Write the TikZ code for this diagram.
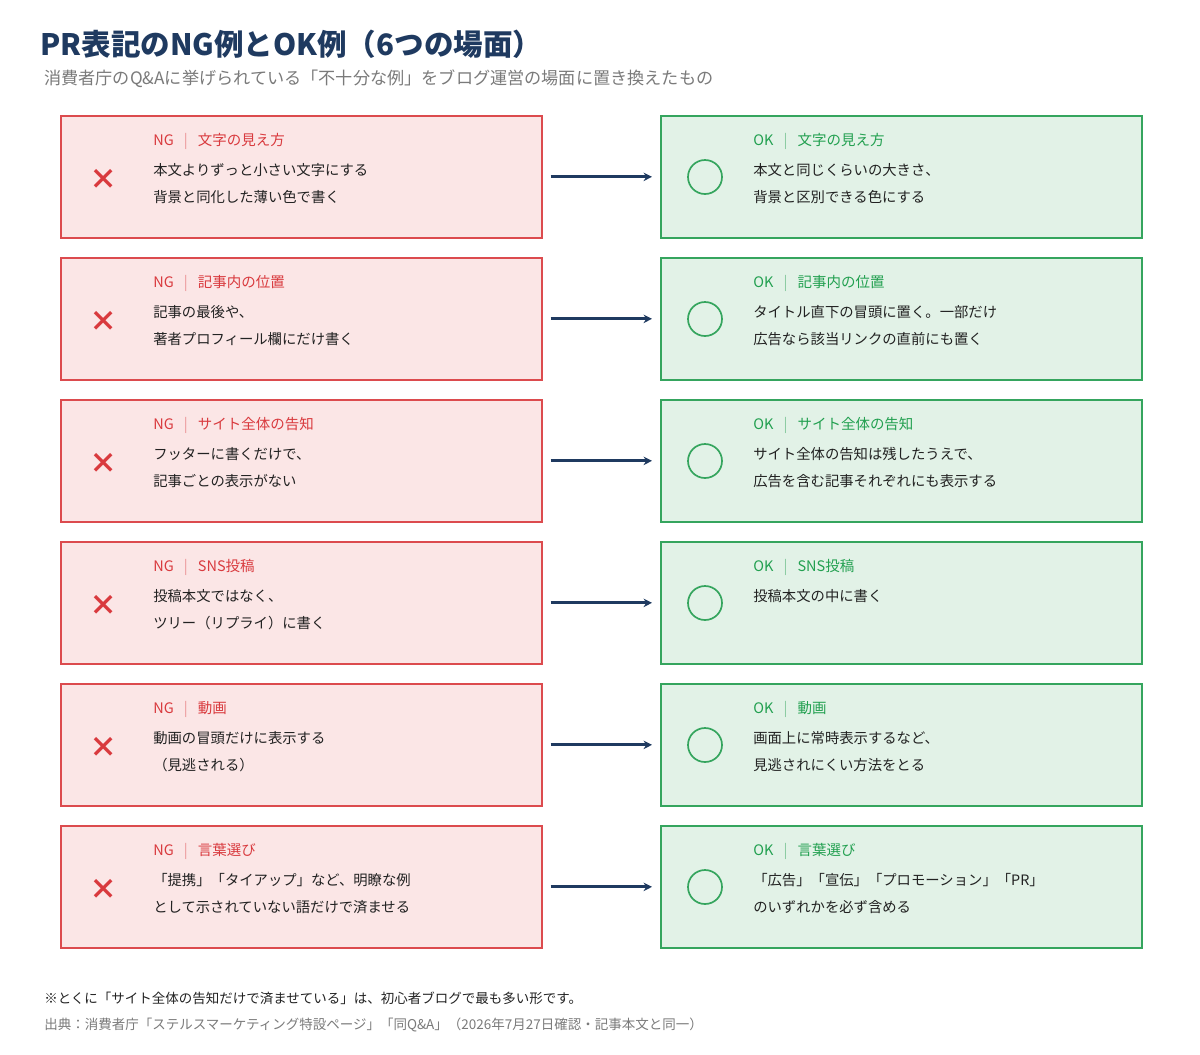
\documentclass[tikz,border=0pt]{standalone}
\usepackage{fontspec}
\setmainfont{Noto Sans CJK JP}
\usepackage{tikz}
\usetikzlibrary{positioning, arrows.meta}
\definecolor{ngline}{HTML}{DC4B4E}
\definecolor{ngfill}{HTML}{FBE6E6}
\definecolor{ngtext}{HTML}{D93A3E}
\definecolor{okline}{HTML}{35A55E}
\definecolor{okfill}{HTML}{E2F2E7}
\definecolor{oktext}{HTML}{22A050}
\definecolor{navy}{HTML}{1F3A60}
\definecolor{greytext}{HTML}{7A7A7A}
\definecolor{bodytext}{HTML}{222222}

\begin{document}
\begin{tikzpicture}[
    x=0.025cm, y=-0.025cm,
    ngbox/.style={rectangle, draw=ngline, fill=ngfill, line width=1.2pt, minimum width=481*0.025cm, minimum height=122*0.025cm, anchor=north west},
    okbox/.style={rectangle, draw=okline, fill=okfill, line width=1.2pt, minimum width=481*0.025cm, minimum height=122*0.025cm, anchor=north west},
    head/.style={anchor=west, font=\fontsize{10.3}{12}\selectfont, inner sep=0pt},
    body/.style={anchor=north west, align=left, text=bodytext, font=\fontsize{10.2}{19.5}\selectfont, inner sep=0pt},
    arrow/.style={-{Stealth[length=6pt,width=6pt]}, line width=2pt, draw=navy, shorten >=8*0.025cm}
]
\useasboundingbox (0,0) rectangle (1200,1054);

% Title
\node[anchor=west, text=navy, font=\fontsize{21}{24}\selectfont\bfseries, inner sep=0pt] (title) at (40,44) {PR表記のNG例とOK例（6つの場面）};
\node[anchor=west, text=greytext, font=\fontsize{12.2}{14}\selectfont, inner sep=0pt] (subtitle) at (44,79) {消費者庁のQ\&Aに挙げられている「不十分な例」をブログ運営の場面に置き換えたもの};

% Rows
\foreach \i/\scene/\ngA/\ngB/\okA/\okB in {
    0/{文字の見え方}/{本文よりずっと小さい文字にする}/{背景と同化した薄い色で書く}/{本文と同じくらいの大きさ、}/{背景と区別できる色にする},
    1/{記事内の位置}/{記事の最後や、}/{著者プロフィール欄にだけ書く}/{タイトル直下の冒頭に置く。一部だけ}/{広告なら該当リンクの直前にも置く},
    2/{サイト全体の告知}/{フッターに書くだけで、}/{記事ごとの表示がない}/{サイト全体の告知は残したうえで、}/{広告を含む記事それぞれにも表示する},
    3/{SNS投稿}/{投稿本文ではなく、}/{ツリー（リプライ）に書く}/{投稿本文の中に書く}/{},
    4/{動画}/{動画の冒頭だけに表示する}/{（見逃される）}/{画面上に常時表示するなど、}/{見逃されにくい方法をとる},
    5/{言葉選び}/{「提携」「タイアップ」など、明瞭な例}/{として示されていない語だけで済ませる}/{「広告」「宣伝」「プロモーション」「PR」}/{のいずれかを必ず含める}}{
  \pgfmathsetmacro{\top}{115+142*\i}
  \node[ngbox] (ng\i) at (60,\top) {};
  \node[okbox] (ok\i) at (660,\top) {};
  % NG side
  \node[text=ngtext, font=\fontsize{20}{20}\selectfont\bfseries, inner sep=0pt] (cross\i) at (104,\top+64) {×};
  \node[head, text=ngtext] (nghead\i) at (153,\top+26) {NG\hspace{0.7em}{\color{ngline!60}\textbar}\hspace{0.7em}\scene};
  \node[body] (ngtext\i) at (153,\top+48) {\ngA\\\ngB};
  % OK side
  \draw[okline, line width=1.2pt] (705,\top+62) circle (17);
  \node[head, text=oktext] (okhead\i) at (753,\top+26) {OK\hspace{0.7em}{\color{okline!60}\textbar}\hspace{0.7em}\scene};
  \node[body] (oktext\i) at (753,\top+48) {\okA\\\okB};
  % Arrow
  \draw[arrow] (ng\i.east) ++(8,0) coordinate (a\i) -- (ok\i.west |- a\i);
}

% Notes
\node[anchor=west, text=bodytext, font=\fontsize{9.6}{12}\selectfont, inner sep=0pt] (note) at (44,998) {※とくに「サイト全体の告知だけで済ませている」は、初心者ブログで最も多い形です。};
\node[anchor=west, text=greytext, font=\fontsize{9.6}{12}\selectfont, inner sep=0pt] (source) at (44,1025) {出典：消費者庁「ステルスマーケティング特設ページ」「同Q\&A」（2026年7月27日確認・記事本文と同一）};
\end{tikzpicture}
\end{document}
